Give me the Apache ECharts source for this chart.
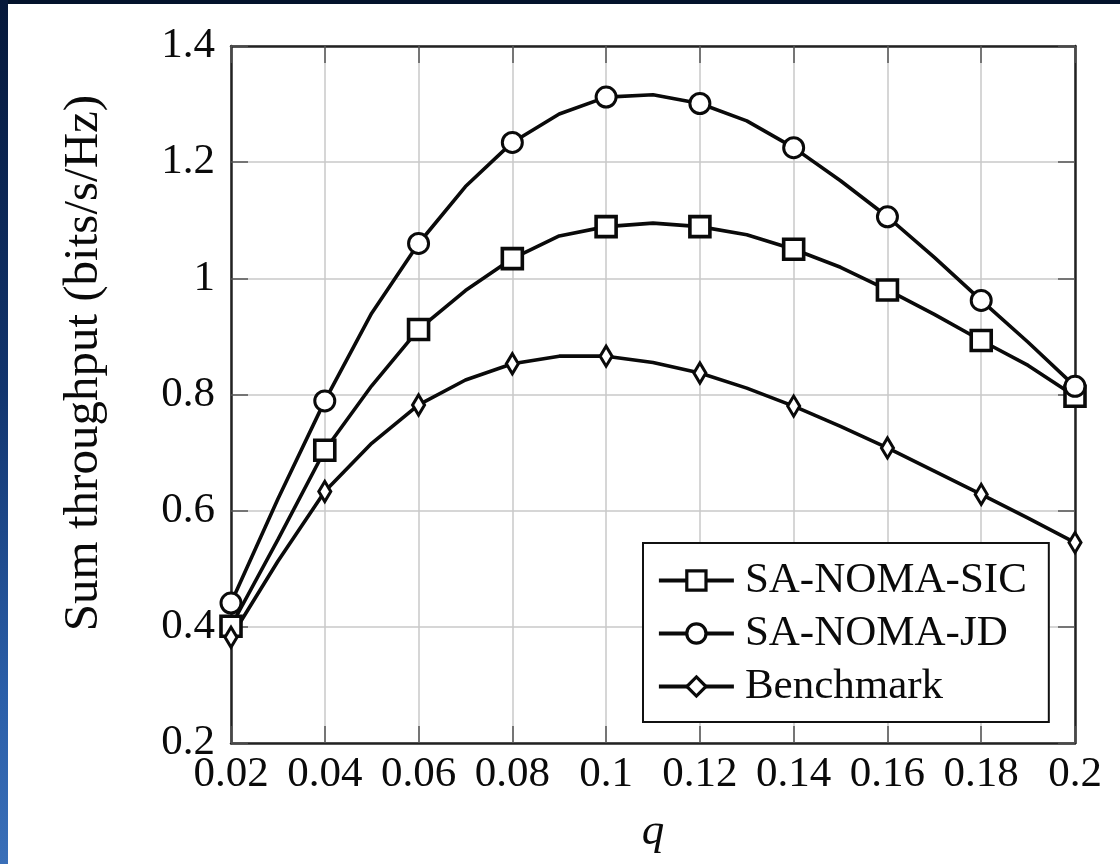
<!DOCTYPE html>
<html>
<head>
<meta charset="utf-8">
<script src="https://cdn.jsdelivr.net/npm/echarts@6/dist/echarts.min.js"></script>
<style>
  html, body { margin: 0; padding: 0; width: 1120px; height: 864px; overflow: hidden; background: #03122b; }
  #strip { position: absolute; left: 0; top: 0; width: 8px; height: 864px;
           background: linear-gradient(180deg, #06183a 0%, #12356e 45%, #2a5ea8 80%, #3a6fb8 100%); }
  #paper { position: absolute; left: 8px; top: 4px; right: 0; bottom: 0; background: #ffffff; }
  #chart { position: absolute; left: 0; top: 0; width: 1120px; height: 864px; }
</style>
</head>
<body>
<div id="strip"></div>
<div id="paper"></div>
<div id="chart"></div>
<script>
// ---- data ----
const qValues = [0.02, 0.03, 0.04, 0.05, 0.06, 0.07, 0.08, 0.09, 0.10, 0.11,
                 0.12, 0.13, 0.14, 0.15, 0.16, 0.17, 0.18, 0.19, 0.20];
const sicValues = [0.401, 0.550, 0.704, 0.815, 0.912, 0.979, 1.034, 1.073, 1.089, 1.095,
                   1.089, 1.075, 1.050, 1.019, 0.980, 0.938, 0.893, 0.850, 0.797];
const jdValues = [0.441, 0.620, 0.789, 0.940, 1.060, 1.158, 1.234, 1.283, 1.312, 1.316,
                  1.301, 1.271, 1.225, 1.168, 1.106, 1.036, 0.962, 0.890, 0.814];
const benchValues = [0.382, 0.513, 0.633, 0.716, 0.782, 0.825, 0.853, 0.866, 0.866, 0.855,
                     0.837, 0.811, 0.780, 0.745, 0.708, 0.668, 0.628, 0.587, 0.545];
const seriesNames = ['SA-NOMA-SIC', 'SA-NOMA-JD', 'Benchmark'];
const xTickLabels = ['0.02','0.04','0.06','0.08','0.1','0.12','0.14','0.16','0.18','0.2'];
const yTickLabels = ['0.2','0.4','0.6','0.8','1','1.2','1.4'];
const xAxisTitle = 'q';
const yAxisTitle = 'Sum throughput (bits/s/Hz)';

const FONT = '"Liberation Serif", "DejaVu Serif", serif';
const TICK_FS = 43;

function buildData(values) {
  // markers are drawn on every second sample (the 0.02 grid)
  return qValues.map((q, i) => {
    const item = { value: [q, values[i]] };
    if (i % 2 !== 0) item.symbol = 'none';
    return item;
  });
}

function lineSeries(name, values, symbol, size, borderWidth) {
  return {
    name: name,
    type: 'line',
    data: buildData(values),
    smooth: false,
    symbol: symbol,
    symbolSize: size,
    showAllSymbol: true,
    lineStyle: { color: '#0a0a0a', width: 3.6 },
    itemStyle: { color: '#ffffff', borderColor: '#0a0a0a', borderWidth: borderWidth },
    emphasis: { disabled: true },
    z: 3
  };
}

const xLabelFmt = v => {
  const idx = Math.round((v - 0.02) / 0.02);
  return xTickLabels[idx] !== undefined ? xTickLabels[idx] : '';
};
const yLabelFmt = v => {
  const idx = Math.round((v - 0.2) / 0.2);
  return yTickLabels[idx] !== undefined ? yTickLabels[idx] : '';
};

const tickStyle = { show: true, inside: true, length: 17, lineStyle: { color: '#555', width: 1.5 } };
const axisLineStyle = { show: true, onZero: false, lineStyle: { color: '#222', width: 2.5 } };

const chart = echarts.init(document.getElementById('chart'), null, { renderer: 'canvas' });
chart.setOption({
  backgroundColor: 'transparent',
  animation: false,
  grid: { left: 231, top: 46, width: 844, height: 697, containLabel: false },
  xAxis: [{
    type: 'value', position: 'bottom', min: 0.02, max: 0.2, interval: 0.02,
    axisLine: axisLineStyle, axisTick: tickStyle,
    axisLabel: { formatter: xLabelFmt, color: '#0a0a0a', fontFamily: FONT, fontSize: TICK_FS, margin: 10 },
    splitLine: { show: true, lineStyle: { color: '#c8c8c8', width: 1.5 } }
  }, {
    type: 'value', position: 'top', min: 0.02, max: 0.2, interval: 0.02,
    axisLine: axisLineStyle, axisTick: tickStyle,
    axisLabel: { show: false }, splitLine: { show: false }
  }],
  yAxis: [{
    type: 'value', position: 'left', min: 0.2, max: 1.4, interval: 0.2,
    axisLine: axisLineStyle, axisTick: tickStyle,
    axisLabel: { formatter: yLabelFmt, color: '#0a0a0a', fontFamily: FONT, fontSize: TICK_FS, margin: 16 },
    splitLine: { show: true, lineStyle: { color: '#c8c8c8', width: 1.5 } }
  }, {
    type: 'value', position: 'right', min: 0.2, max: 1.4, interval: 0.2,
    axisLine: axisLineStyle, axisTick: tickStyle,
    axisLabel: { show: false }, splitLine: { show: false }
  }],
  legend: {
    orient: 'vertical',
    left: 643, top: 543,
    data: seriesNames,
    itemWidth: 75, itemHeight: 24, itemGap: 10,
    padding: [16, 22, 14, 14],
    backgroundColor: '#ffffff',
    borderColor: '#111', borderWidth: 2, borderRadius: 0,
    lineStyle: { color: '#0a0a0a', width: 3.8 },
    itemStyle: { color: '#ffffff', borderColor: '#0a0a0a', borderWidth: 3.2 },
    textStyle: { color: '#0a0a0a', fontFamily: FONT, fontSize: TICK_FS, padding: [0, 0, 0, 6] },
    selectedMode: false,
    z: 10
  },
  graphic: [{
    type: 'text', z: 10,
    x: 653, y: 832,
    style: { text: xAxisTitle, font: 'italic 45px ' + FONT, fill: '#0a0a0a', textAlign: 'center', textVerticalAlign: 'middle' }
  }, {
    type: 'text', z: 10,
    x: 84, y: 363, rotation: Math.PI / 2,
    style: { text: yAxisTitle, font: '49px ' + FONT, fill: '#0a0a0a', textAlign: 'center', textVerticalAlign: 'middle' }
  }],
  series: [
    lineSeries(seriesNames[0], sicValues, 'rect', 20, 3.6),
    lineSeries(seriesNames[1], jdValues, 'circle', 20, 3),
    lineSeries(seriesNames[2], benchValues, 'diamond', [12, 20], 3.2)
  ]
});
</script>
</body>
</html>
